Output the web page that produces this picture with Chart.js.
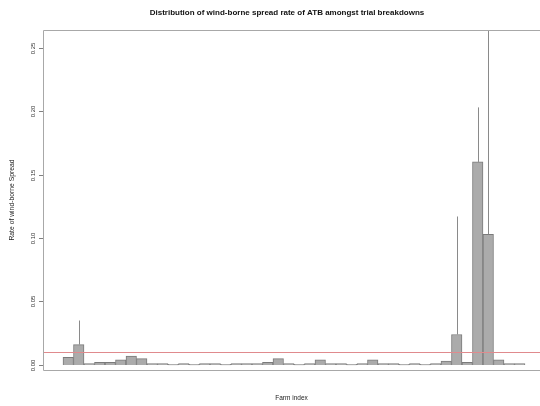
<!DOCTYPE html>
<html><head><meta charset="utf-8">
<script src="https://cdn.jsdelivr.net/npm/chart.js@4"></script>
<style>html,body{margin:0;padding:0;background:#fff}</style>
</head><body>
<canvas id="c" width="540" height="406"></canvas>
<script>
const farmIndex = [1,2,3,4,5,6,7,8,9,10,11,12,13,14,15,16,17,18,19,20,21,22,23,24,25,26,27,28,29,30,31,32,33,34,35,36,37,38,39,40,41,42,43,44];
const spreadRate = [0.006,0.016,0.001,0.002,0.002,0.004,0.007,0.005,0.001,0.001,0.0005,0.001,0.0005,0.001,0.001,0.0005,0.001,0.001,0.001,0.002,0.005,0.001,0.0005,0.001,0.004,0.001,0.001,0.0005,0.001,0.004,0.001,0.001,0.0005,0.001,0.0005,0.001,0.003,0.024,0.002,0.160,0.103,0.004,0.001,0.001];
const upperBound = [null,0.035,null,null,null,null,null,null,null,null,null,null,null,null,null,null,null,null,null,null,null,null,null,null,null,null,null,null,null,null,null,null,null,null,null,null,null,0.117,null,0.203,0.300,null,null,null];
const yTicks = [0,0.05,0.10,0.15,0.20,0.25];
const yTickLabels = ['0.00','0.05','0.10','0.15','0.20','0.25'];
const thresholdRate = 0.01;
const titleText = 'Distribution of wind-borne spread rate of ATB amongst trial breakdowns';
const xTitle = 'Farm index';
const yTitle = 'Rate of wind-borne Spread';

const FONT = '"Liberation Sans", Arial, sans-serif';

const extras = {
  id: 'extras',
  afterDatasetsDraw(chart) {
    const {ctx, chartArea: a, scales: {x, y}} = chart;
    ctx.save();
    ctx.beginPath(); ctx.rect(a.left, a.top, a.right - a.left, a.bottom - a.top); ctx.clip();
    ctx.strokeStyle = '#8a8a8a'; ctx.lineWidth = 1;
    upperBound.forEach((u, i) => {
      if (u == null) return;
      const px = Math.round(x.getPixelForValue(farmIndex[i])) + 0.5;
      ctx.beginPath();
      ctx.moveTo(px, y.getPixelForValue(spreadRate[i]));
      ctx.lineTo(px, y.getPixelForValue(u));
      ctx.stroke();
    });
    ctx.strokeStyle = '#e08a8d'; ctx.lineWidth = 1;
    const ry = Math.round(y.getPixelForValue(thresholdRate)) + 0.5;
    ctx.beginPath(); ctx.moveTo(a.left, ry); ctx.lineTo(a.right, ry); ctx.stroke();
    ctx.restore();
  },
  afterDraw(chart) {
    const {ctx, chartArea: a, scales: {y}} = chart;
    ctx.save();
    ctx.strokeStyle = '#a8a8a8'; ctx.lineWidth = 1;
    const L = Math.round(a.left) + 0.5, T = Math.round(a.top) + 0.5, B = Math.round(a.bottom) + 0.5;
    ctx.beginPath();
    ctx.moveTo(a.right, T); ctx.lineTo(L, T); ctx.lineTo(L, B); ctx.lineTo(a.right, B);
    ctx.stroke();
    ctx.strokeStyle = '#808080';
    ctx.fillStyle = '#333';
    ctx.font = '6px ' + FONT;
    ctx.textAlign = 'center'; ctx.textBaseline = 'middle';
    yTicks.forEach((t, i) => {
      const py = Math.round(y.getPixelForValue(t)) + 0.5;
      ctx.beginPath(); ctx.moveTo(a.left - 4, py); ctx.lineTo(a.left, py); ctx.stroke();
      ctx.save();
      ctx.translate(a.left - 10, py);
      ctx.rotate(-Math.PI / 2);
      ctx.fillText(yTickLabels[i], 0, 0);
      ctx.restore();
    });
    ctx.fillStyle = '#111';
    ctx.font = 'bold 8px ' + FONT;
    ctx.fillText(titleText, 287, 13);
    ctx.restore();
  }
};

new Chart(document.getElementById('c'), {
  type: 'bar',
  data: {
    datasets: [{
      data: farmIndex.map((f, i) => ({x: f, y: spreadRate[i]})),
      backgroundColor: '#ababab',
      borderColor: '#7a7a7a',
      borderWidth: 1,
      barPercentage: 1,
      categoryPercentage: 1
    }]
  },
  options: {
    responsive: false,
    animation: false,
    devicePixelRatio: 1,
    layout: {padding: {top: 30, right: 0, left: 0, bottom: 0}},
    plugins: {legend: {display: false}, tooltip: {enabled: false}, title: {display: false}},
    scales: {
      x: {
        type: 'linear', min: -1.405, max: 45.93, offset: false,
        ticks: {display: false}, grid: {display: false}, border: {display: false},
        title: {display: true, text: xTitle, color: '#222', font: {family: FONT, size: 6.5}, padding: {top: 2, bottom: 4}},
        afterFit(s) { s.height = 36; }
      },
      y: {
        min: -0.004, max: 0.264,
        ticks: {display: false}, grid: {display: false}, border: {display: false},
        title: {display: true, text: yTitle, color: '#222', font: {family: FONT, size: 6.8}, padding: {top: 8, bottom: 0}},
        afterFit(s) { s.width = 43; }
      }
    }
  },
  plugins: [extras]
});
</script>
</body></html>
